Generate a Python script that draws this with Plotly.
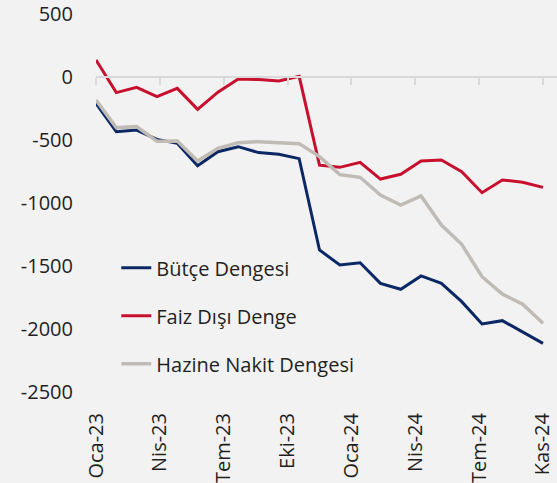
import numpy as np
import plotly.graph_objects as go

months = ["Oca-23", "Şub-23", "Mar-23", "Nis-23", "May-23", "Haz-23", "Tem-23", "Ağu-23",
          "Eyl-23", "Eki-23", "Kas-23", "Ara-23", "Oca-24", "Şub-24", "Mar-24", "Nis-24",
          "May-24", "Haz-24", "Tem-24", "Ağu-24", "Eyl-24", "Eki-24", "Kas-24"]

butce_dengesi = [-209, -434, -421, -495, -526, -704, -593, -553, -600, -614, -648, -1373,
                 -1492, -1474, -1638, -1685, -1579, -1638, -1783, -1960, -1934, -2021, -2114]
faiz_disi_denge = [135, -124, -82, -156, -90, -257, -120, -15, -20, -32, 5, -700,
                   -717, -677, -810, -772, -667, -659, -751, -918, -817, -836, -876]
hazine_nakit_dengesi = [-183, -402, -394, -510, -508, -667, -566, -521, -513, -524, -529, -632,
                        -775, -796, -937, -1016, -944, -1175, -1328, -1585, -1722, -1804, -1955]

tick_labels = ["Oca-23", "Nis-23", "Tem-23", "Eki-23", "Oca-24", "Nis-24", "Tem-24", "Kas-24"]
y_ticks = [500, 0, -500, -1000, -1500, -2000, -2500]

x = list(range(len(months)))
tick_pos = np.linspace(0, len(months) - 1, len(tick_labels)).tolist()

FONT = "Open Sans"
TXT = "#1f1f1f"
BG = "#f2f2f2"
FS = 20

series = [
    ("Bütçe Dengesi", butce_dengesi, "#0b2865", 3),
    ("Faiz Dışı Denge", faiz_disi_denge, "#c8102e", 3),
    ("Hazine Nakit Dengesi", hazine_nakit_dengesi, "#c0bcb5", 3.5),
]

fig = go.Figure()
for name, vals, color, w in series:
    fig.add_trace(go.Scatter(
        x=x, y=vals, name=name, mode="lines", text=months,
        line=dict(color=color, width=w), legendgroup=name,
        hovertemplate="%{text}: %{y}<extra>" + name + "</extra>",
    ))

# invisible trace to carry the zero-level category axis (line + tick marks)
fig.add_trace(go.Scatter(x=[x[0], x[-1]], y=[None, None], xaxis="x2", showlegend=False,
                         hoverinfo="skip", mode="lines"))

y_min, y_max = -2500, 500
x_range = [0, 22.69]
zero_pos = (0 - y_min) / (y_max - y_min)

fig.update_layout(
    width=557, height=483,
    margin=dict(l=96, r=0, t=14, b=91, autoexpand=False),
    paper_bgcolor=BG, plot_bgcolor=BG,
    font=dict(family=FONT, size=FS, color=TXT),
    showlegend=True,
    legend=dict(
        x=0.044, y=0.38, xanchor="left", yanchor="top",
        bgcolor="rgba(0,0,0,0)", font=dict(family=FONT, size=FS, color=TXT),
        tracegroupgap=19,
    ),
    xaxis=dict(
        range=x_range, tickmode="array", tickvals=tick_pos, ticktext=tick_labels,
        tickangle=-90, showgrid=False, zeroline=False, showline=False, ticks="",
        ticklabelstandoff=16, automargin=False,
        tickfont=dict(family=FONT, size=FS, color=TXT),
    ),
    xaxis2=dict(
        overlaying="x", anchor="free", position=zero_pos, range=x_range,
        tickmode="array", tickvals=tick_pos, showticklabels=False,
        showline=True, linecolor="#d9d9d9", linewidth=2,
        ticks="outside", ticklen=7, tickwidth=2, tickcolor="#d9d9d9",
        showgrid=False, zeroline=False, automargin=False,
    ),
    yaxis=dict(
        range=[y_min, y_max], tickmode="array", tickvals=y_ticks,
        ticktext=[str(v) for v in y_ticks],
        showgrid=False, zeroline=False, showline=False, ticks="",
        ticklabelstandoff=22, automargin=False,
        tickfont=dict(family=FONT, size=FS, color=TXT),
    ),
)

fig.write_html(
    "out.html",
    config={"displayModeBar": False},
    post_script="document.body.style.margin='0px';document.body.style.background='#f2f2f2';",
)
